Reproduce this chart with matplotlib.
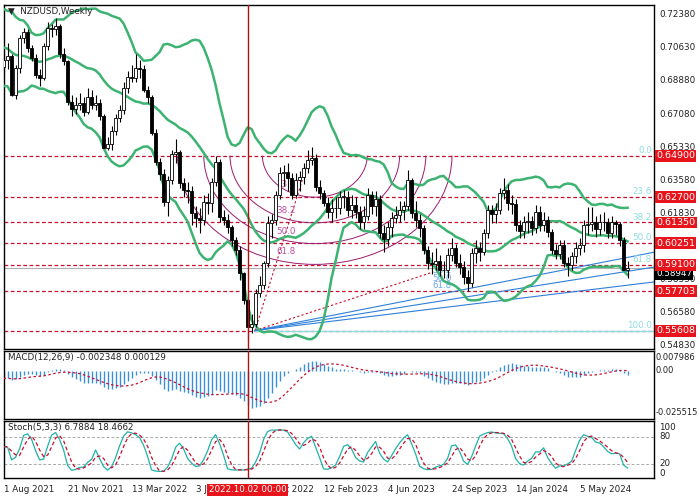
import numpy as np
import pandas as pd
import matplotlib
matplotlib.use("Agg")
import matplotlib.pyplot as plt
from matplotlib.patches import Arc

plt.rcParams['font.family'] = ['DejaVu Sans']

# weekly closes, 1 Aug 2021 .. 28 Jul 2024
closes = [0.700, 0.702, 0.681, 0.6955, 0.7115, 0.7148, 0.706, 0.701, 0.692, 0.690,
          0.707, 0.717, 0.716, 0.718, 0.703, 0.699, 0.6775, 0.674, 0.676, 0.677,
          0.672, 0.680, 0.676, 0.677, 0.670, 0.653, 0.655, 0.662, 0.669, 0.673,
          0.685, 0.691, 0.690, 0.6955, 0.695, 0.684, 0.680, 0.661, 0.6455, 0.639,
          0.6245, 0.636, 0.650, 0.651, 0.6345, 0.631, 0.630, 0.6185, 0.616, 0.615,
          0.6245, 0.624, 0.635, 0.6457, 0.6165, 0.615, 0.611, 0.604, 0.599, 0.5866,
          0.5723, 0.558, 0.5595, 0.576, 0.5803, 0.592, 0.613, 0.6148, 0.628, 0.6398,
          0.6403, 0.637, 0.628, 0.636, 0.6377, 0.6425, 0.6467, 0.648, 0.6325, 0.629,
          0.624, 0.619, 0.6212, 0.621, 0.627, 0.627, 0.620, 0.623, 0.619, 0.6137,
          0.617, 0.628, 0.622, 0.626, 0.608, 0.6047, 0.611, 0.616, 0.6175, 0.620,
          0.622, 0.636, 0.6185, 0.615, 0.6105, 0.599, 0.592, 0.5915, 0.593, 0.588,
          0.5885, 0.596, 0.600, 0.592, 0.590, 0.5845, 0.5813, 0.5975, 0.600, 0.598,
          0.608, 0.620, 0.618, 0.620, 0.629, 0.631, 0.624, 0.6233, 0.612, 0.609,
          0.6137, 0.6145, 0.6105, 0.619, 0.612, 0.615, 0.6085, 0.599, 0.597, 0.6015,
          0.592, 0.591, 0.5955, 0.600, 0.6015, 0.612, 0.6125, 0.614, 0.610, 0.614,
          0.6135, 0.608, 0.614, 0.6125, 0.604, 0.5883, 0.5895]
highs = [0.705, 0.709, 0.703, 0.697, 0.713, 0.717, 0.716, 0.708, 0.703, 0.695,
         0.709, 0.720, 0.719, 0.722, 0.719, 0.706, 0.700, 0.681, 0.680, 0.682,
         0.680, 0.685, 0.684, 0.681, 0.679, 0.671, 0.659, 0.665, 0.671, 0.676,
         0.688, 0.694, 0.697, 0.703, 0.700, 0.697, 0.686, 0.681, 0.663, 0.648,
         0.642, 0.638, 0.652, 0.658, 0.652, 0.637, 0.635, 0.633, 0.622, 0.621,
         0.628, 0.629, 0.637, 0.649, 0.647, 0.620, 0.618, 0.612, 0.606, 0.601,
         0.587, 0.576, 0.565, 0.578, 0.585, 0.593, 0.617, 0.618, 0.630, 0.643,
         0.644, 0.645, 0.640, 0.640, 0.641, 0.645, 0.652, 0.6538, 0.650, 0.636,
         0.631, 0.627, 0.626, 0.627, 0.630, 0.631, 0.630, 0.628, 0.627, 0.622,
         0.622, 0.632, 0.630, 0.630, 0.628, 0.612, 0.614, 0.619, 0.622, 0.625,
         0.625, 0.6412, 0.637, 0.625, 0.618, 0.612, 0.601, 0.598, 0.600, 0.596,
         0.593, 0.600, 0.605, 0.602, 0.597, 0.593, 0.588, 0.600, 0.604, 0.603,
         0.610, 0.623, 0.623, 0.624, 0.632, 0.6369, 0.634, 0.628, 0.626, 0.615,
         0.617, 0.619, 0.617, 0.623, 0.622, 0.619, 0.617, 0.610, 0.602, 0.604,
         0.604, 0.595, 0.598, 0.603, 0.605, 0.615, 0.6215, 0.6215, 0.617, 0.618,
         0.619, 0.616, 0.617, 0.615, 0.614, 0.606, 0.593]
lows = [0.693, 0.695, 0.6806, 0.679, 0.693, 0.709, 0.704, 0.699, 0.690, 0.686,
        0.689, 0.705, 0.712, 0.713, 0.701, 0.697, 0.676, 0.670, 0.671, 0.673,
        0.670, 0.671, 0.674, 0.673, 0.668, 0.653, 0.652, 0.652, 0.660, 0.667,
        0.671, 0.682, 0.688, 0.688, 0.690, 0.683, 0.677, 0.660, 0.644, 0.636,
        0.622, 0.617, 0.634, 0.645, 0.632, 0.627, 0.624, 0.612, 0.611, 0.608,
        0.612, 0.618, 0.619, 0.633, 0.614, 0.612, 0.608, 0.601, 0.596, 0.583,
        0.570, 0.5512, 0.555, 0.558, 0.574, 0.578, 0.590, 0.605, 0.612, 0.626,
        0.633, 0.630, 0.626, 0.627, 0.630, 0.634, 0.640, 0.644, 0.630, 0.626,
        0.622, 0.616, 0.614, 0.616, 0.618, 0.621, 0.617, 0.616, 0.616, 0.610,
        0.610, 0.615, 0.618, 0.617, 0.605, 0.598, 0.601, 0.606, 0.613, 0.614,
        0.615, 0.620, 0.616, 0.611, 0.606, 0.597, 0.589, 0.586, 0.588, 0.585,
        0.584, 0.584, 0.593, 0.590, 0.586, 0.581, 0.5772, 0.579, 0.592, 0.593,
        0.596, 0.605, 0.613, 0.613, 0.618, 0.626, 0.620, 0.618, 0.609, 0.605,
        0.605, 0.608, 0.607, 0.608, 0.609, 0.609, 0.606, 0.597, 0.594, 0.594,
        0.590, 0.5851, 0.588, 0.592, 0.596, 0.598, 0.607, 0.609, 0.606, 0.607,
        0.609, 0.605, 0.605, 0.607, 0.601, 0.588, 0.584]
first_open = 0.696
# closes of the weeks before the visible range, feed the indicators
warmup = [0.718, 0.716, 0.697, 0.699, 0.700, 0.714, 0.716, 0.716, 0.719, 0.723,
          0.720, 0.717, 0.720, 0.722, 0.710, 0.700, 0.699, 0.700, 0.702, 0.700,
          0.694, 0.700, 0.693, 0.696, 0.701, 0.698]

levels = [0.64900, 0.62700, 0.61350, 0.60251, 0.59100, 0.57703, 0.55608]
fib_names = ["0.0", "23.6", "38.2", "50.0", "61.8", None, "100.0"]
price_ticks = [0.72380, 0.70630, 0.68880, 0.67080, 0.65330, 0.63580,
               0.61830, 0.58330, 0.56580, 0.54830]
last_price = 0.58947
marker_bar = 61
macd_text = "MACD(12,26,9) -0.002348 0.000129"
stoch_text = "Stoch(5,3,3) 6.7884 18.4662"

n = len(closes)
idx = np.arange(n)
opens = [first_open] + closes[:-1]
highs = np.maximum(highs, np.maximum(opens, closes))
lows = np.minimum(lows, np.minimum(opens, closes))
dates = pd.date_range("2021-08-01", periods=n, freq="7D")

# indicators
allc = pd.Series(warmup + closes)
mid = allc.rolling(20).mean()
sd = allc.rolling(20).std(ddof=0)
up, lo = (mid + 2 * sd).values[-n:], (mid - 2 * sd).values[-n:]
mid = mid.values[-n:]
macd = allc.ewm(span=12, adjust=False).mean() - allc.ewm(span=26, adjust=False).mean()
sig = macd.rolling(9).mean()
macd, sig = macd.values[-n:], sig.values[-n:]
H, L, C = pd.Series(highs), pd.Series(lows), pd.Series(closes)
raw_hi = (H.rolling(5, min_periods=1).max() - L.rolling(5, min_periods=1).min())
num = (C - L.rolling(5, min_periods=1).min()).rolling(3, min_periods=1).sum()
den = raw_hi.rolling(3, min_periods=1).sum()
k = (100 * num / den).values
d = pd.Series(k).rolling(3, min_periods=1).mean().values

# layout in pixels
W, Hh = 700, 500
fig = plt.figure(figsize=(7, 5), dpi=100)
def box(top, bot):
    return [4 / W, 1 - bot / Hh, 650 / W, (bot - top) / Hh]
ax = fig.add_axes(box(5, 349))
axm = fig.add_axes(box(351, 419))
axs = fig.add_axes(box(421, 478))
xl = (0.1, 162.6)
ppx = 1883.0  # pixels per price unit
for a in (ax, axm, axs):
    a.set_xlim(*xl)
    a.set_xticks([])
    a.set_yticks([])
    for s in a.spines.values():
        s.set_color("black")
        s.set_linewidth(1)
ax.set_ylim(0.5463, 0.7290)
axm.set_ylim(-0.0298, 0.0123)
axs.set_ylim(-11, 115)

red = "#c8102e"
green = "#3cb371"
fs = 6.3
# horizontal levels
for lv in levels:
    ax.axhline(lv, color=red, ls=(0, (3, 2)), lw=0.9, zorder=1)
ax.axhline(last_price, color="#b0b0b0", lw=0.8, zorder=1)
ax.plot([62.85, xl[1]], [levels[-1], levels[-1]], color="#8fdede", lw=1, zorder=1)

# fibonacci arcs
for f in (0.236, 0.382, 0.5, 0.618):
    ax.add_patch(Arc((77.8, 0.649), 2 * 222 * f / 4, 2 * 176 * f / ppx,
                     theta1=180, theta2=360, color="#9b1b6e", lw=0.7, zorder=2))
for f, lab in zip((0.236, 0.382, 0.5, 0.618), ("23.6", "38.2", "50.0", "61.8")):
    ax.text(70.5, 0.649 - (176 * f - 8) / ppx, lab, color="#c050a0",
            fontsize=fs, ha="center", va="bottom", zorder=3)
# trend lines from the low
A = (62.85, 0.5561)
ax.plot([A[0], 76.6], [A[1], 0.649], color=red, ls=(0, (2, 2)), lw=0.8, zorder=2)
ax.plot([A[0], 107.4], [A[1], 0.5872], color=red, ls=(0, (2, 2)), lw=0.8, zorder=2)
for p in (0.5977, 0.5898, 0.5819):
    ax.plot([A[0], xl[1]], [A[1], p], color="#2f7fd8", lw=0.8, zorder=2)
for j, lab in enumerate(("38.2", "50.0", "61.8")):
    ax.text(109.5, 0.5879 - j * 0.0039, lab, color="#6aa8f0", fontsize=fs,
            ha="center", va="center", zorder=3)

# bollinger bands
for band in (up, mid, lo):
    ax.plot(idx, band, color=green, lw=1.8, zorder=3)

# candles
ax.vlines(idx, lows, highs, color="black", lw=0.8, zorder=4)
for i in idx:
    o, c = opens[i], closes[i]
    col = "white" if c >= o else "black"
    hgt = max(abs(c - o), 0.0004)
    ax.bar(i, hgt, bottom=min(o, c), width=0.6, color=col, edgecolor="black",
           lw=0.6, zorder=5)

# marker line
for a in (ax, axm, axs):
    a.axvline(marker_bar, color="#b01010", lw=1, zorder=6)

# MACD panel
axm.vlines(idx, 0, macd, color="#3a8fd8", lw=1.0, zorder=2)
axm.plot(idx, sig, color=red, ls=(0, (2, 2)), lw=0.9, zorder=3)
axm.text(1.2, 0.0112, macd_text, fontsize=fs, va="top", color="#222")

# Stoch panel
for lv in (20, 80):
    axs.axhline(lv, color="#aaaaaa", ls=(0, (3, 2)), lw=0.7)
axs.plot(idx, k, color="#20b2aa", lw=0.9, zorder=3)
axs.plot(idx, d, color=red, ls=(0, (3, 2)), lw=0.9, zorder=3)
axs.text(1.2, 111, stoch_text, fontsize=fs, va="top", color="#222")

ax.text(1.2, 0.7282, "\u25bc  NZDUSD,Weekly", fontsize=fs, va="top", color="#222")

# right-side labels
def ypix(a, v):
    return a.transData.transform((0, v))[1] / Hh
for p in price_ticks:
    fig.text(659 / W, ypix(ax, p), f"{p:.5f}", fontsize=fs, va="center", color="#222")
fig.text(656 / W, ypix(ax, last_price) - 0.012, f"{last_price:.5f}", fontsize=fs,
         va="center", color="white",
         bbox=dict(boxstyle="square,pad=0.15", fc="black", ec="none"))
for lv, name in zip(levels, fib_names):
    fig.text(656 / W, ypix(ax, lv), f"{lv:.5f}", fontsize=6.8, va="center",
             color="white",
             bbox=dict(boxstyle="square,pad=0.15", fc="#e8141c", ec="none"))
    if name:
        ax.text(xl[1] - 0.5, lv + 0.0004, name, color="#8fdede", fontsize=fs,
                ha="right", va="bottom", zorder=3)
for v, s in ((0.007986, "0.007986"), (0.0, "0.00"), (-0.025515, "-0.025515")):
    fig.text(656 / W, ypix(axm, v), s, fontsize=6, va="center", color="#222")
for v, s in ((100, "100"), (80, "80"), (20, "20"), (0, "0")):
    fig.text(659 / W, ypix(axs, v), s, fontsize=fs, va="center", color="#222")

# date axis
for i in range(0, n, 16):
    dt = dates[i]
    xf = (4 + (i - xl[0]) * 4) / W
    fig.text(xf, 1 - 490 / Hh, f"{dt.day} {dt:%b %Y}", fontsize=fs, va="center",
             color="#222")
md = dates[marker_bar]
fig.text((4 + (marker_bar - xl[0]) * 4) / W, 1 - 490 / Hh,
         f"{md:%Y.%m.%d} 00:00", fontsize=fs, va="center", ha="center",
         color="white", zorder=10,
         bbox=dict(boxstyle="square,pad=0.2", fc="#e8141c", ec="none"))

fig.savefig("out.png", dpi=100)
